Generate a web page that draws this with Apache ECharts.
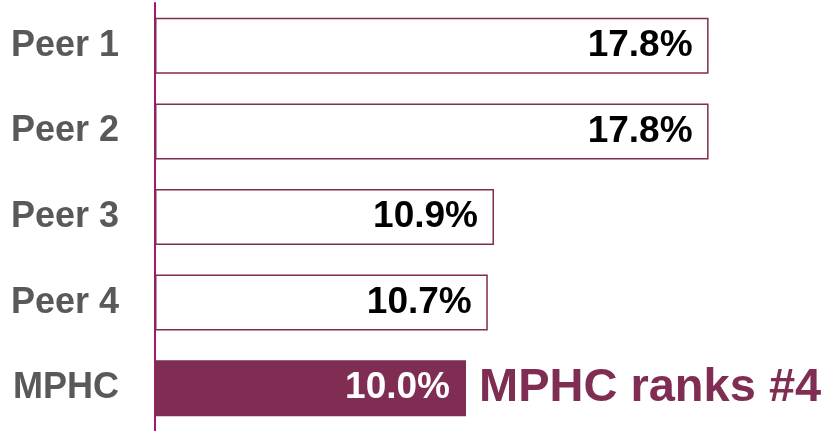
<!DOCTYPE html>
<html>
<head>
<meta charset="utf-8">
<script src="https://cdn.jsdelivr.net/npm/echarts@6/dist/echarts.min.js"></script>
<style>html,body{margin:0;padding:0;background:#fff;}#c{width:828px;height:431px;}</style>
</head>
<body>
<div id="c"></div>
<script>
var categories = ['Peer 1', 'Peer 2', 'Peer 3', 'Peer 4', 'MPHC'];
var values = [17.8, 17.8, 10.9, 10.7, 10.0];
var highlight = 'MPHC';
var rankText = 'MPHC ranks #4';

var purple = '#7f2d52';
var chart = echarts.init(document.getElementById('c'));
chart.setOption({
  animation: false,
  grid: { left: 155, right: 51, top: 3, bottom: 0, containLabel: false },
  xAxis: { type: 'value', min: 0, max: 20, show: false },
  yAxis: {
    type: 'category', data: categories, inverse: true,
    axisLine: { show: true, lineStyle: { color: '#a3176f', width: 2 } },
    axisTick: { show: false },
    axisLabel: { color: '#595959', fontSize: 36, fontWeight: 'bold', fontFamily: 'Liberation Sans, Arial, sans-serif', margin: 36 }
  },
  series: [{
    type: 'bar', barWidth: 56, z: 2,
    data: values.map(function (v, i) {
      var hi = categories[i] === highlight;
      return {
        value: v,
        itemStyle: { color: hi ? purple : '#ffffff', borderColor: purple, borderWidth: 1.5 },
        label: { color: hi ? '#ffffff' : '#000000' }
      };
    }),
    label: {
      show: true, position: 'insideRight', distance: 16,
      fontSize: 37, fontWeight: 'bold', fontFamily: 'Liberation Sans, Arial, sans-serif',
      formatter: function (p) { return p.value.toFixed(1) + '%'; }
    }
  }, {
    type: 'bar', barWidth: 56, barGap: '-100%', z: 1, silent: true,
    data: values.map(function (v, i) {
      return {
        value: v,
        itemStyle: { color: 'rgba(0,0,0,0)' },
        label: { show: categories[i] === highlight }
      };
    }),
    label: {
      position: 'right', distance: 13, color: purple,
      fontSize: 47, fontWeight: 'bold', fontFamily: 'Liberation Sans, Arial, sans-serif',
      formatter: function () { return rankText; }
    }
  }]
});
</script>
</body>
</html>
